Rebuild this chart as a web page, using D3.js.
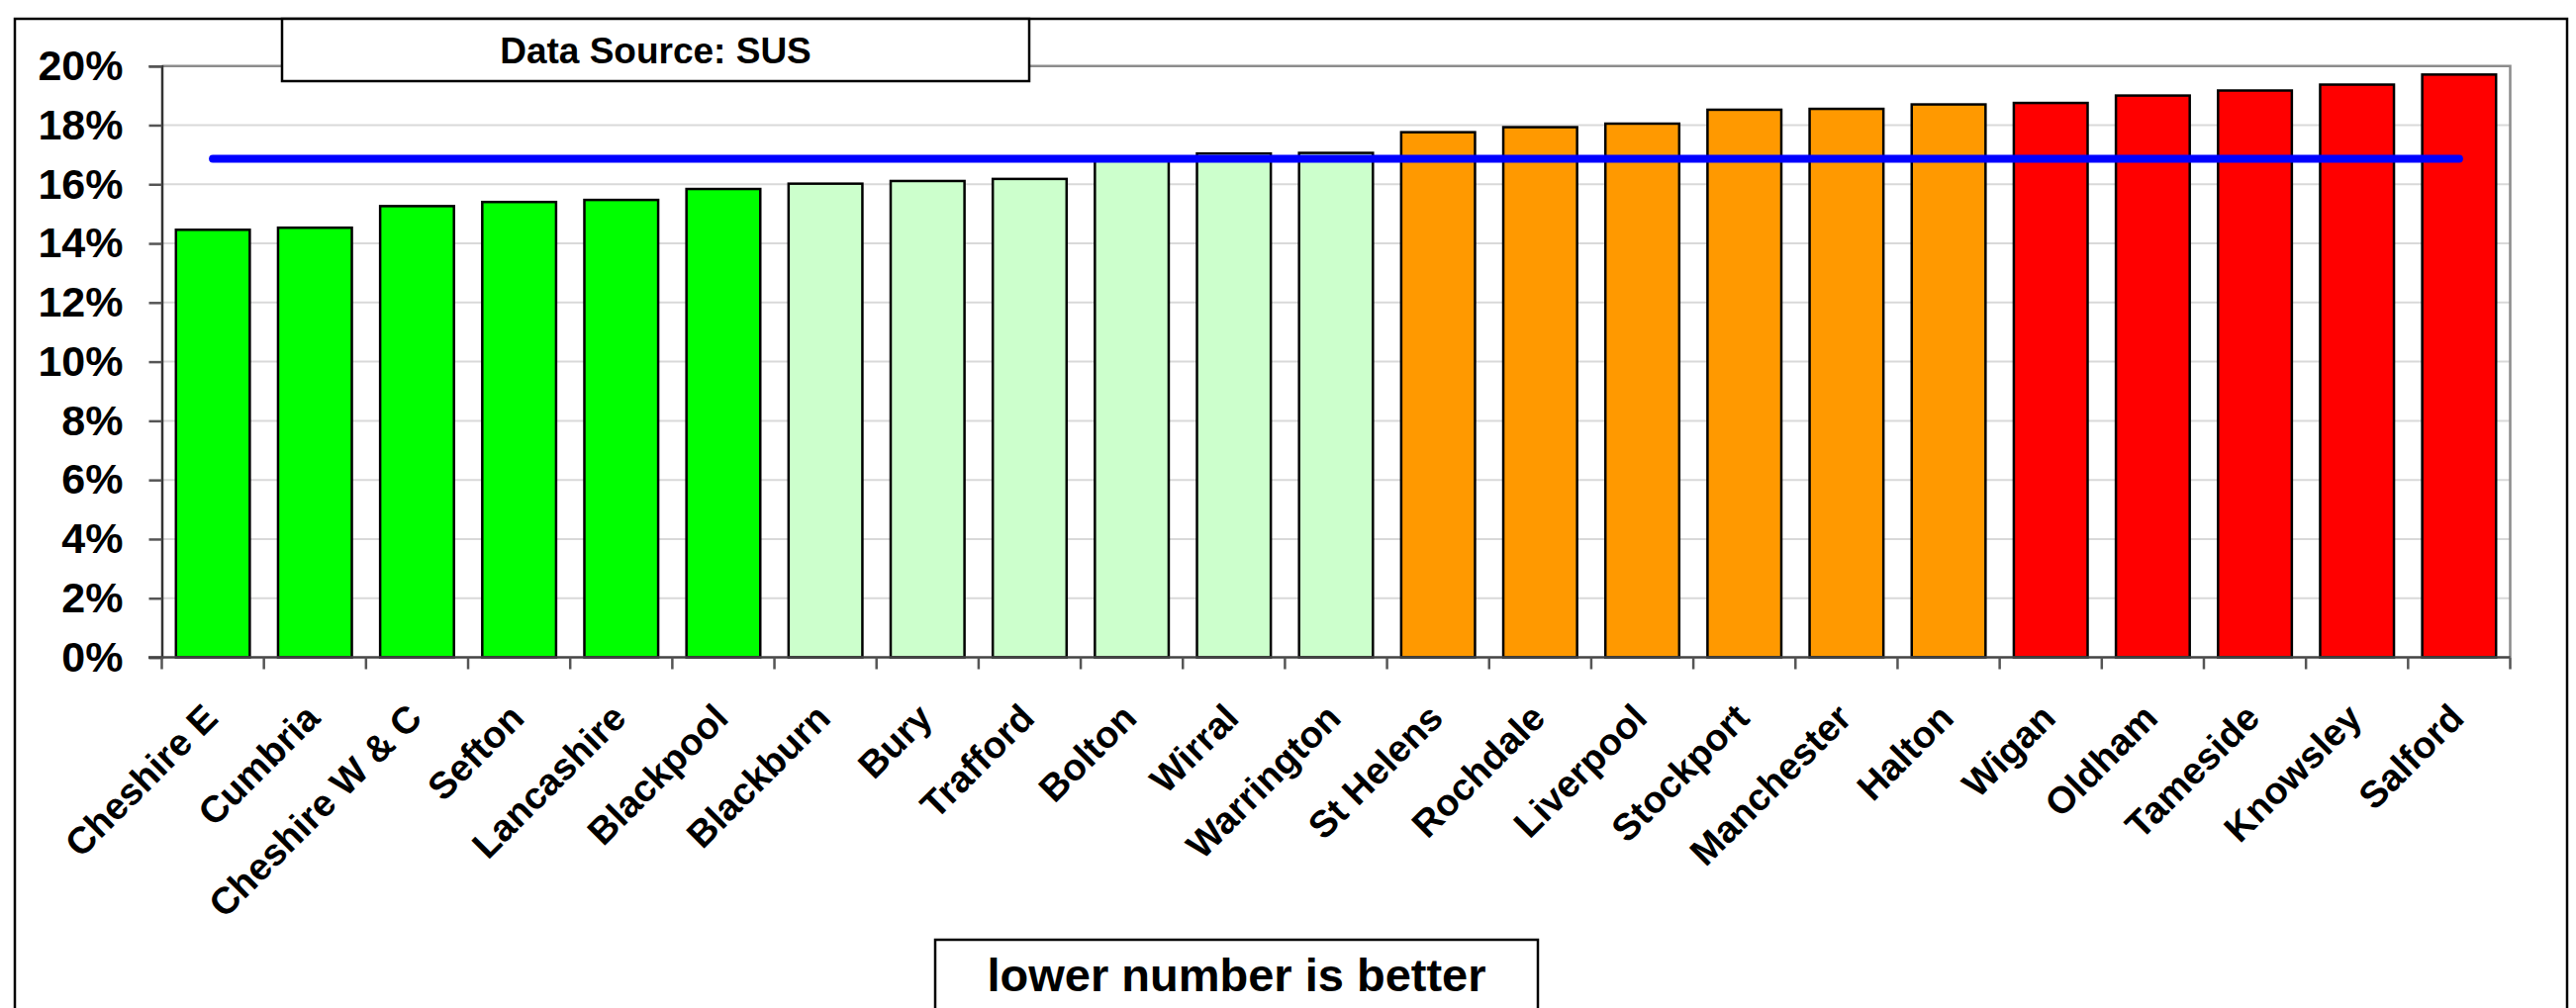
<!DOCTYPE html>
<html>
<head>
<meta charset="utf-8">
<script src="https://cdn.jsdelivr.net/npm/d3@7"></script>
<style>
  html, body { margin: 0; padding: 0; background: #fff; }
  svg { display: block; }
  text { font-family: "Liberation Sans", Arial, sans-serif; font-weight: bold; fill: #000; }
</style>
</head>
<body>
<script>
// ---- data ----
const categories = ["Cheshire E", "Cumbria", "Cheshire W & C", "Sefton", "Lancashire", "Blackpool",
  "Blackburn", "Bury", "Trafford", "Bolton", "Wirral", "Warrington",
  "St Helens", "Rochdale", "Liverpool", "Stockport", "Manchester", "Halton",
  "Wigan", "Oldham", "Tameside", "Knowsley", "Salford"];
const values = [14.46, 14.53, 15.26, 15.40, 15.47, 15.84,
  16.02, 16.11, 16.18, 16.80, 17.04, 17.06,
  17.76, 17.93, 18.05, 18.52, 18.55, 18.70,
  18.75, 19.00, 19.17, 19.37, 19.71];
const groups = ["best", "best", "best", "best", "best", "best",
  "good", "good", "good", "good", "good", "good",
  "fair", "fair", "fair", "fair", "fair", "fair",
  "worst", "worst", "worst", "worst", "worst"];
const averageValue = 16.86;
const yTicks = [0, 2, 4, 6, 8, 10, 12, 14, 16, 18, 20];
const sourceText = "Data Source: SUS";
const noteText = "lower number is better";
const groupColors = { best: "#00FF00", good: "#CCFFCC", fair: "#FF9900", worst: "#FF0000" };

// ---- layout ----
const W = 2603, H = 1019;
const plot = { left: 163.5, right: 2536.5, top: 66.7, bottom: 664.5 };

const svg = d3.select("body").append("svg").attr("width", W).attr("height", H);

const x = d3.scaleBand().domain(categories).range([plot.left, plot.right])
  .paddingInner(0.277).paddingOuter(0.1385);
const y = d3.scaleLinear().domain([0, 20]).range([plot.bottom, plot.top]);
const step = x.step();

// outer chart border
svg.append("rect").attr("x", 15).attr("y", 19).attr("width", 2594 - 15).attr("height", H + 20)
  .attr("fill", "#fff").attr("stroke", "#000").attr("stroke-width", 2.5);

// gridlines
svg.append("g").selectAll("line").data(yTicks.filter(t => t > 0 && t < 20)).join("line")
  .attr("x1", plot.left).attr("x2", plot.right)
  .attr("y1", d => y(d)).attr("y2", d => y(d))
  .attr("stroke", "#d9d9d9").attr("stroke-width", 2);

// plot area border top/right (gray)
svg.append("path")
  .attr("d", `M${plot.left},${y(20)}H${plot.right}V${plot.bottom}`)
  .attr("fill", "none").attr("stroke", "#8c8c8c").attr("stroke-width", 2.5);

// bars
svg.append("g").selectAll("rect").data(categories).join("rect")
  .attr("x", d => x(d))
  .attr("width", x.bandwidth())
  .attr("y", (d, i) => y(values[i]))
  .attr("height", (d, i) => y(0) - y(values[i]))
  .attr("fill", (d, i) => groupColors[groups[i]])
  .attr("stroke", "#000").attr("stroke-width", 2.5);

// y axis
const yAxis = d3.axisLeft(y).tickValues(yTicks).tickSize(13).tickPadding(26)
  .tickFormat(d => d + "%");
const gy = svg.append("g").attr("transform", `translate(${plot.left},0)`).call(yAxis);
gy.select(".domain").attr("stroke", "#333").attr("stroke-width", 2.5);
gy.selectAll(".tick line").attr("stroke", "#555").attr("stroke-width", 2.5);
gy.selectAll(".tick text").attr("font-size", 43).attr("font-family", "'Liberation Sans', Arial, sans-serif")
  .attr("font-weight", "bold").attr("fill", "#000");

// x axis line
svg.append("line").attr("x1", 150).attr("x2", plot.right)
  .attr("y1", plot.bottom).attr("y2", plot.bottom)
  .attr("stroke", "#444").attr("stroke-width", 2.5);

// category tick marks at band boundaries
const boundaries = d3.range(categories.length + 1).map(i => plot.left + i * step);
svg.append("g").selectAll("line").data(boundaries).join("line")
  .attr("x1", d => d).attr("x2", d => d)
  .attr("y1", plot.bottom).attr("y2", plot.bottom + 12)
  .attr("stroke", "#555").attr("stroke-width", 2.5);

// average line
const line = d3.line().x(d => x(d) + x.bandwidth() / 2).y(() => y(averageValue));
svg.append("path").datum(categories).attr("d", line)
  .attr("fill", "none").attr("stroke", "#0000FF").attr("stroke-width", 8)
  .attr("stroke-linecap", "round");

// x labels
svg.append("g").selectAll("text").data(categories).join("text")
  .attr("transform", d => `translate(${x(d) + x.bandwidth() / 2 + 7},728) rotate(-45)`)
  .attr("text-anchor", "end")
  .attr("font-size", 38)
  .text(d => d);

// title box
svg.append("rect").attr("x", 285).attr("y", 19).attr("width", 1040 - 285).attr("height", 82 - 19)
  .attr("fill", "#fff").attr("stroke", "#000").attr("stroke-width", 2.5);
svg.append("text").attr("x", (285 + 1040) / 2).attr("y", 64).attr("text-anchor", "middle")
  .attr("font-size", 37).text(sourceText);

// bottom note box
svg.append("rect").attr("x", 945).attr("y", 950).attr("width", 1554 - 945).attr("height", 100)
  .attr("fill", "#fff").attr("stroke", "#000").attr("stroke-width", 2.5);
svg.append("text").attr("x", (945 + 1554) / 2).attr("y", 1002).attr("text-anchor", "middle")
  .attr("font-size", 47).text(noteText);
</script>
</body>
</html>
